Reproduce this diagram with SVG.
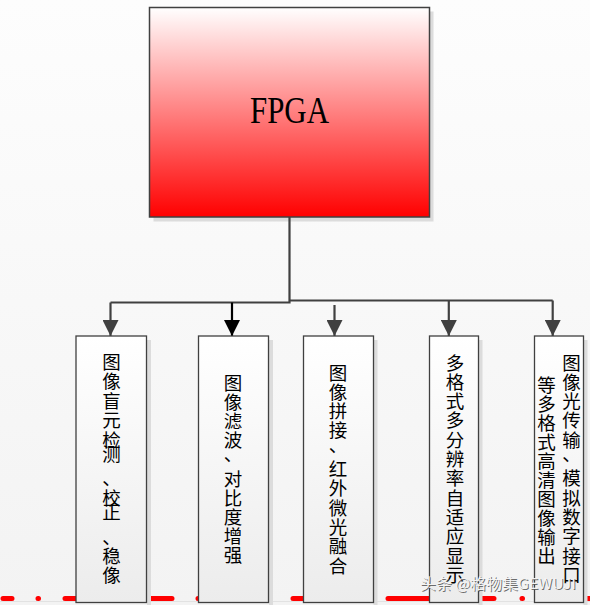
<svg xmlns="http://www.w3.org/2000/svg" width="590" height="605" viewBox="0 0 590 605">
  <defs>
    <linearGradient id="bg" x1="0" y1="0" x2="0" y2="1">
      <stop offset="0" stop-color="#fdfdfd"/>
      <stop offset="1" stop-color="#f3f3f3"/>
    </linearGradient>
    <linearGradient id="red" x1="0" y1="0" x2="0" y2="1">
      <stop offset="0" stop-color="#ffffff"/>
      <stop offset="0.5" stop-color="#ff8080"/>
      <stop offset="1" stop-color="#ff0000"/>
    </linearGradient>
    <linearGradient id="box" x1="0" y1="0" x2="0" y2="1">
      <stop offset="0" stop-color="#ffffff"/>
      <stop offset="1" stop-color="#ececec"/>
    </linearGradient>
    <marker id="ah" viewBox="0 0 16 16" refX="16" refY="8" markerWidth="16" markerHeight="16" markerUnits="userSpaceOnUse" orient="auto">
      <path d="M0,0 L16,8 L0,16 Z" fill="#404040"/>
    </marker>
    <marker id="ahb" viewBox="0 0 16 16" refX="16" refY="8" markerWidth="16" markerHeight="16" markerUnits="userSpaceOnUse" orient="auto">
      <path d="M0,0 L16,8 L0,16 Z" fill="#000"/>
    </marker>
  </defs>
  <style>
    .shadow { fill: #dcdcdc; }
    .node { fill: url(#box); stroke: #404040; stroke-width: 1.3; }
    .lbl { font-family: "Noto Sans CJK SC", "Noto Sans", sans-serif; font-size: 18.5px; fill: #000; text-anchor: middle; }
    .conn { fill: none; stroke: #404040; stroke-width: 2.2; }
    .dash { fill: none; stroke: #ff0000; stroke-width: 5; stroke-linecap: round; }
  </style>

  <rect x="0" y="0" width="590" height="605" fill="url(#bg)"/>
  <line x1="0" y1="601.5" x2="590" y2="601.5" stroke="#e2e2e2" stroke-width="1"/>

  <!-- red page-break marks at bottom -->
  <g id="marks">
    <path class="dash" d="M3,598.5 H12 M38,598.5 H38.5 M65,598.5 H172 M198,598.5 H199 M293,598.5 H303 M388,598.5 H494 M522,598.5 H522.5 M584,598.5 H592"/>
  </g>

  <g id="fpga">
    <rect class="shadow" x="153.5" y="11.5" width="280" height="210"/>
    <rect x="149.5" y="7.5" width="280" height="209.5" fill="url(#red)" stroke="#404040" stroke-width="1.5"/>
    <text x="289.5" y="123" font-family="Liberation Serif, serif" font-size="38" textLength="79" lengthAdjust="spacingAndGlyphs" text-anchor="middle" fill="#000">FPGA</text>
  </g>

  <g id="connectors">
    <path class="conn" d="M289.5,217 V302.5 H110.5"/>
    <path class="conn" d="M289.5,300.5 H552.7"/>
    <path class="conn" d="M110.5,302.5 V336" marker-end="url(#ah)"/>
    <path d="M232,302.5 V336" fill="none" stroke="#000" stroke-width="2.2" marker-end="url(#ahb)"/>
    <path class="conn" d="M334.5,305 V336" marker-end="url(#ah)"/>
    <path class="conn" d="M448.8,300.5 V336" marker-end="url(#ah)"/>
    <path class="conn" d="M552.7,300.5 V336" marker-end="url(#ah)"/>
  </g>

  <g id="node1">
    <rect class="shadow" x="147" y="340" width="4" height="265"/>
    <rect class="node" x="76" y="336" width="70.5" height="266.5"/>
    <text class="lbl" x="111.5 111.5 111.5 111.5 111.5 111.5 111.5 111.5 111.5 111.5 111.5 111.5" y="369 388.4 407.8 427.2 446.6 461 485.4 504.8 519.2 543.6 563 582.4">图像盲元检测、校正、稳像</text>
  </g>

  <g id="node2">
    <rect class="shadow" x="269" y="340" width="4" height="265"/>
    <rect class="node" x="198.5" y="336" width="70" height="266.5"/>
    <text class="lbl" x="233 233 233 233 233 233 233 233 233 233" y="389.5 408.7 427.9 447.1 461.3 485.5 504.7 523.9 543.1 562.3">图像滤波、对比度增强</text>
  </g>

  <g id="node3">
    <rect class="shadow" x="373.5" y="340" width="4" height="265"/>
    <rect class="node" x="303.5" y="336" width="70" height="266.5"/>
    <text class="lbl" x="338 338 338 338 338 338 338 338 338 338 338" y="379.5 398.8 418.1 437.4 451.7 476 495.3 514.6 533.9 553.2 572.5">图像拼接、红外微光融合</text>
  </g>

  <g id="node4">
    <rect class="shadow" x="478.5" y="340" width="4" height="265"/>
    <rect class="node" x="429.5" y="336" width="49" height="266.5"/>
    <text class="lbl" x="455 455 455 455 455 455 455 455 455 455 455 455" y="369.5 388.8 408.1 427.4 446.7 466 485.3 504.6 523.9 543.2 562.5 581.8">多格式多分辨率自适应显示</text>
  </g>

  <g id="node5">
    <rect class="shadow" x="583.5" y="340" width="4" height="265"/>
    <rect class="node" x="534.5" y="336" width="49" height="266.5"/>
    <text class="lbl" x="571.5 571.5 571.5 571.5 571.5 571.5 571.5 571.5 571.5 571.5 571.5 571.5" y="369.5 388.8 408.1 427.4 446.7 461 485.3 504.6 523.9 543.2 562.5 581.8">图像光传输、模拟数字接口</text>
    <text class="lbl" x="546.5 546.5 546.5 546.5 546.5 546.5 546.5 546.5 546.5 546.5" y="391.5 410.5 429.5 448.5 467.5 486.5 505.5 524.5 543.5 562.5">等多格式高清图像输出</text>
  </g>

  <g id="watermark" font-family="Noto Sans CJK SC, Noto Sans, sans-serif" font-size="15">
    <text x="421" y="590" fill="#555" fill-opacity="0.85" textLength="156" lengthAdjust="spacingAndGlyphs">头条 @格物集GEWUJI</text>
    <text x="420" y="589" fill="#f4f4f4" textLength="156" lengthAdjust="spacingAndGlyphs">头条 @格物集GEWUJI</text>
  </g>
</svg>
